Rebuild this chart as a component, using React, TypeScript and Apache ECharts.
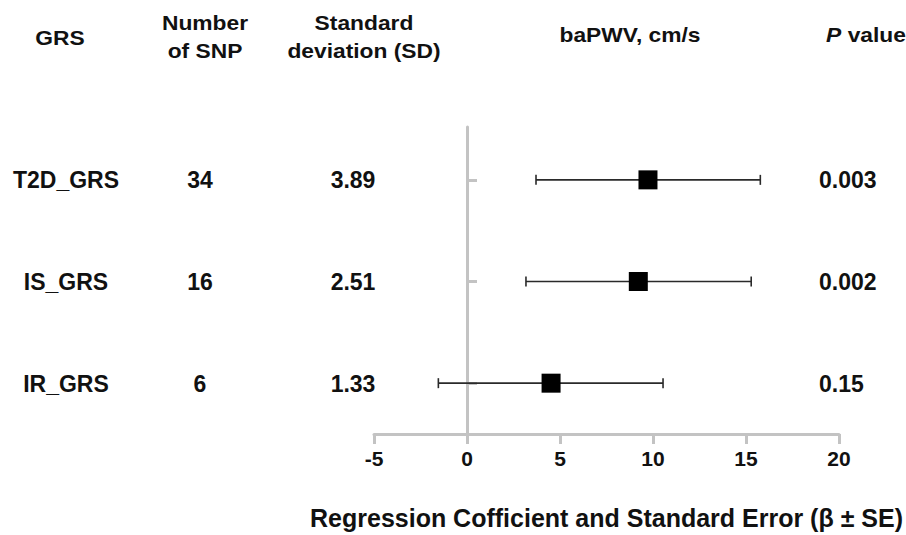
import React, { useEffect, useRef } from "react";
import * as echarts from "echarts";

const categories = ["T2D_GRS", "IS_GRS", "IR_GRS"];
const snpCounts = ["34", "16", "6"];
const sdValues = ["3.89", "2.51", "1.33"];
const beta = [9.73, 9.21, 4.52];
const lower = [3.71, 3.17, -1.54];
const upper = [15.77, 15.28, 10.54];
const pValues = ["0.003", "0.002", "0.15"];
const rowPos = [3, 2, 1];

const FONT = "'Liberation Sans', Arial, Helvetica, sans-serif";
const AXIS_GRAY = "#c3c3c3";

function columnSeries(xPos: number, texts: string[], align: string) {
  return {
    type: "scatter",
    xAxisIndex: 1,
    yAxisIndex: 1,
    symbolSize: 1,
    clip: false,
    silent: true,
    itemStyle: { color: "rgba(0,0,0,0)", opacity: 1 },
    data: texts.map((t, i) => ({ value: [xPos, rowPos[i]], name: t })),
    label: {
      show: true,
      position: "inside",
      align,
      verticalAlign: "middle",
      formatter: (p: any) => p.name,
      fontSize: 23,
      fontWeight: "bold",
      fontFamily: FONT,
      color: "#111",
      opacity: 1,
    },
    z: 5,
  };
}

function headerText(text: string, x: number, y: number, extra: any = {}) {
  return {
    type: "text",
    x,
    y,
    scaleX: 1.14,
    style: {
      text,
      align: "center",
      verticalAlign: "middle",
      fontSize: 20,
      fontWeight: "bold",
      fontFamily: FONT,
      fill: "#111",
      lineHeight: 28,
      ...extra,
    },
  };
}

export default function App() {
  const ref = useRef<HTMLDivElement>(null);

  useEffect(() => {
    if (!ref.current) return;
    const chart = echarts.init(ref.current, undefined, { renderer: "svg" });

    const option: any = {
      animation: false,
      backgroundColor: "#ffffff",
      grid: [
        { left: 374, right: 67, top: 127, bottom: 100, containLabel: false },
        { left: 0, right: 0, top: 127, bottom: 100, containLabel: false },
      ],
      xAxis: [
        {
          type: "value",
          gridIndex: 0,
          min: -5,
          max: 20,
          interval: 5,
          axisLine: { show: true, lineStyle: { color: AXIS_GRAY, width: 3 } },
          axisTick: { show: true, length: 10, lineStyle: { color: AXIS_GRAY, width: 3 } },
          axisLabel: {
            margin: 14,
            fontSize: 21,
            fontWeight: "bold",
            fontFamily: FONT,
            color: "#111",
          },
          splitLine: { show: false },
          name: "Regression Cofficient and Standard Error (β ± SE)",
          nameLocation: "middle",
          nameGap: 71,
          nameTextStyle: {
            fontSize: 25,
            fontWeight: "bold",
            fontFamily: FONT,
            color: "#111",
          },
        },
        {
          type: "value",
          gridIndex: 1,
          min: 0,
          max: 906,
          show: false,
        },
      ],
      yAxis: [
        {
          type: "value",
          gridIndex: 0,
          min: 0.5,
          max: 3.52,
          axisLine: { show: true, onZero: true, lineStyle: { color: AXIS_GRAY, width: 3 } },
          axisTick: {
            show: true,
            inside: true,
            length: 10,
            customValues: rowPos,
            lineStyle: { color: AXIS_GRAY, width: 3 },
          },
          axisLabel: { show: false },
          splitLine: { show: false },
        },
        {
          type: "value",
          gridIndex: 1,
          min: 0.5,
          max: 3.52,
          show: false,
        },
      ],
      series: [
        {
          type: "custom",
          xAxisIndex: 0,
          yAxisIndex: 0,
          clip: false,
          data: rowPos.map((y, i) => [y, lower[i], upper[i]]),
          encode: { x: [1, 2], y: 0 },
          renderItem: (_params: any, api: any) => {
            const y = api.value(0);
            const p1 = api.coord([api.value(1), y]);
            const p2 = api.coord([api.value(2), y]);
            const cap = 5;
            const style = { stroke: "#2a2a2a", lineWidth: 1.6 };
            return {
              type: "group",
              children: [
                { type: "line", shape: { x1: p1[0], y1: p1[1], x2: p2[0], y2: p2[1] }, style },
                { type: "line", shape: { x1: p1[0], y1: p1[1] - cap, x2: p1[0], y2: p1[1] + cap }, style },
                { type: "line", shape: { x1: p2[0], y1: p2[1] - cap, x2: p2[0], y2: p2[1] + cap }, style },
              ],
            };
          },
          z: 3,
        },
        {
          type: "scatter",
          xAxisIndex: 0,
          yAxisIndex: 0,
          symbol: "rect",
          symbolSize: 19,
          itemStyle: { color: "#000000", opacity: 1 },
          data: beta.map((b, i) => [b, rowPos[i]]),
          z: 4,
        },
        columnSeries(66, categories, "center"),
        columnSeries(200, snpCounts, "center"),
        columnSeries(353, sdValues, "center"),
        columnSeries(819, pValues, "left"),
      ],
      graphic: [
        headerText("GRS", 60, 38),
        headerText("Number\nof SNP", 205, 37),
        headerText("Standard\ndeviation (SD)", 364, 37),
        headerText("baPWV, cm/s", 630, 35),
        headerText("{i|P} value", 866, 35, {
          rich: {
            i: { fontStyle: "italic", fontWeight: "bold", fontSize: 20, fontFamily: FONT, fill: "#111" },
          },
        }),
      ],
    };

    chart.setOption(option);
    return () => chart.dispose();
  }, []);

  return (
    <div
      ref={ref}
      style={{ position: "fixed", left: 0, top: 0, width: 906, height: 535 }}
    />
  );
}
